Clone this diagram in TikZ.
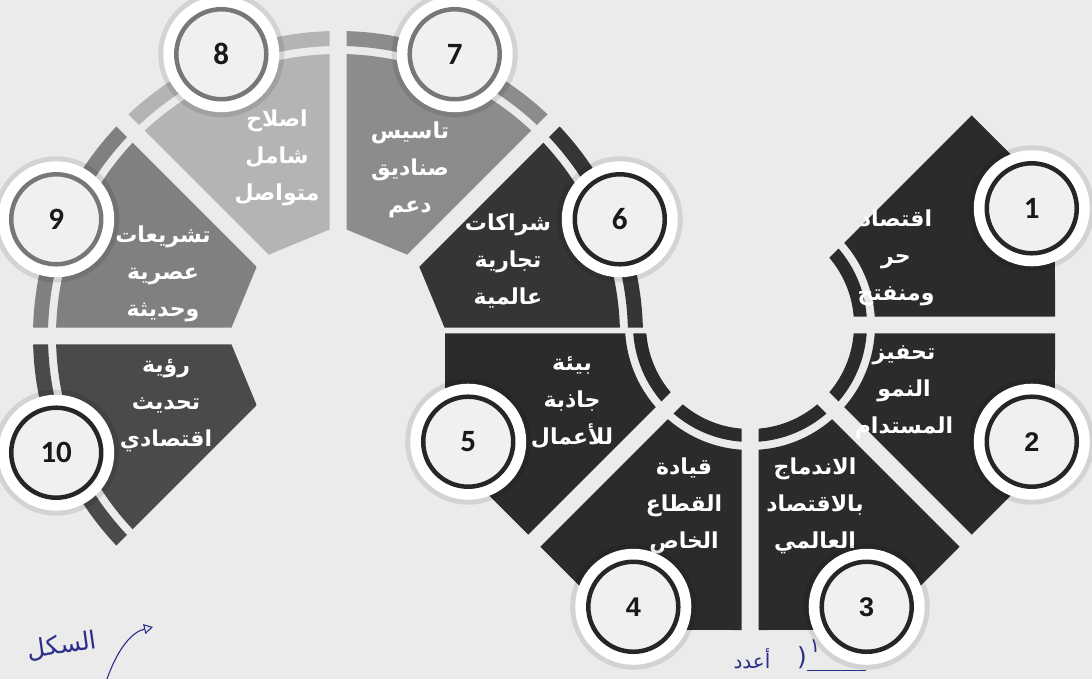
\documentclass[tikz,border=0pt]{standalone}
\usepackage{fontspec}
\setmainfont{Carlito}
\newfontfamily\arabicfont[Script=Arabic]{DejaVu Sans}
\newfontfamily\numA{Carlito}
\newfontfamily\numB{Liberation Sans}
\TeXXeTstate=1
\usetikzlibrary{calc,arrows.meta}
\definecolor{bg}{HTML}{EBEBEB}
\definecolor{segdark}{HTML}{2B2B2B}
\definecolor{segsix}{HTML}{353535}
\definecolor{segseven}{HTML}{8C8C8C}
\definecolor{segeight}{HTML}{B4B4B4}
\definecolor{segnine}{HTML}{808080}
\definecolor{segten}{HTML}{4A4A4A}
\definecolor{ringdark}{HTML}{262626}
\definecolor{ringgray}{HTML}{777777}
\definecolor{badgefill}{HTML}{F0F0F0}
\definecolor{pen}{HTML}{2B2F8A}
\newcommand{\ar}[1]{\beginR #1\endR}
\newcommand{\gp}{8.5}
% right ring segment: centre, start angle, colour
\newcommand{\rseg}[3]{%
  \begin{scope}
    \clip ($(#1)+({#2+22.5}:22.2)$) -- ($(#1)+(#2:430)+({#2+90}:\gp)$) -- ($(#1)+({#2+45}:430)+({#2-45}:\gp)$) -- cycle;
    \fill[#3,even odd rule] (#1) -- ($(#1)+(#2:305)$) -- ($(#1)+({#2+22.5}:330.1)$) -- ($(#1)+({#2+45}:305)$) -- cycle (#1) circle[radius=125];
    \fill[#3,even odd rule] (#1) circle[radius=117] (#1) circle[radius=104];
  \end{scope}}
% left ring segment: centre, start angle, colour
\newcommand{\lseg}[3]{%
  \begin{scope}
    \clip ($(#1)+({#2+22.5}:22.2)$) -- ($(#1)+(#2:430)+({#2+90}:\gp)$) -- ($(#1)+({#2+45}:430)+({#2-45}:\gp)$) -- cycle;
    \fill[#3] ($(#1)+(#2:110)$) -- ($(#1)+(#2:282)$) arc[start angle=#2, end angle={#2+45}, radius=282] -- ($(#1)+({#2+45}:110)$) -- cycle;
    \fill[#3,even odd rule] (#1) circle[radius=305] (#1) circle[radius=290];
  \end{scope}}
\tikzset{
  badge/.style={circle, minimum size=90pt, inner sep=0pt, fill=badgefill, draw=#1, line width=4.5pt,
    text=black!90, preaction={draw=black, draw opacity=0.10, line width=36pt},
    preaction={draw=white, line width=26pt}},
  numa/.style={font=\numA\bfseries\fontsize{31}{32}\selectfont},
  numb/.style={font=\numB\bfseries\fontsize{27}{32}\selectfont},
  seglabel/.style={text=white, align=center, font=\arabicfont\bfseries\fontsize{22}{37}\selectfont},
  hand/.style={text=pen, inner sep=1pt, font=\arabicfont\fontsize{25}{27}\selectfont}
}
\begin{document}
\begin{tikzpicture}[x=1pt,y=1pt]
\fill[bg] (0,0) rectangle (1092,-679);
\useasboundingbox (0,0) rectangle (1092,-679);
\coordinate (CR) at (750,-325);
\coordinate (CL) at (338,-336);
% right ring
\rseg{CR}{0}{segdark}
\rseg{CR}{-45}{segdark}
\rseg{CR}{-90}{segdark}
\rseg{CR}{-135}{segdark}
\rseg{CR}{-180}{segdark}
% left ring
\lseg{CL}{0}{segsix}
\lseg{CL}{45}{segseven}
\lseg{CL}{90}{segeight}
\lseg{CL}{135}{segnine}
\lseg{CL}{180}{segten}
% labels
\node[seglabel] (t1) at (896,-258) {\ar{اقتصاد}\\\ar{حر}\\\ar{ومنفتح}};
\node[seglabel] (t2) at (904,-392) {\ar{تحفيز}\\\ar{النمو}\\\ar{المستدام}};
\node[seglabel] (t3) at (815,-506) {\ar{الاندماج}\\\ar{بالاقتصاد}\\\ar{العالمي}};
\node[seglabel] (t4) at (684,-506) {\ar{قيادة}\\\ar{القطاع}\\\ar{الخاص}};
\node[seglabel] (t5) at (572,-403) {\ar{بيئة}\\\ar{جاذبة}\\\ar{للأعمال}};
\node[seglabel] (t6) at (508,-261) {\ar{شراكات}\\\ar{تجارية}\\\ar{عالمية}};
\node[seglabel] (t7) at (410,-170) {\ar{تاسيس}\\\ar{صناديق}\\\ar{دعم}};
\node[seglabel] (t8) at (277,-158) {\ar{اصلاح}\\\ar{شامل}\\\ar{متواصل}};
\node[seglabel] (t9) at (163,-274) {\ar{تشريعات}\\\ar{عصرية}\\\ar{وحديثة}};
\node[seglabel] (t10) at (166,-406) {\ar{رؤية}\\\ar{تحديث}\\\ar{اقتصادي}};
% badges
\node[badge=ringdark, numa] (b1) at ($(CR)+(22.5:305)$) {1};
\node[badge=ringdark, numb] (b2) at ($(CR)+(-22.5:305)$) {2};
\node[badge=ringdark, numb] (b3) at ($(CR)+(-67.5:305)$) {3};
\node[badge=ringdark, numb] (b4) at ($(CR)+(-112.5:305)$) {4};
\node[badge=ringdark, numa] (b5) at ($(CR)+(-157.5:305)$) {5};
\node[badge=ringdark, numa] (b6) at ($(CL)+(22.5:305)$) {6};
\node[badge=ringgray, numa] (b7) at ($(CL)+(67.5:305)$) {7};
\node[badge=ringgray, numa] (b8) at ($(CL)+(112.5:305)$) {8};
\node[badge=ringgray, numa] (b9) at ($(CL)+(157.5:305)$) {9};
\node[badge=ringdark, numa] (b10) at ($(CL)+(202.5:305)$) {10};
% handwriting
\coordinate (h1) at (107,-679);
\coordinate (h2) at (153,-627);
\draw[pen, line width=1.1pt, -{Triangle[open,length=9pt,width=10pt]}] (h1) .. controls (118,-648) and (132,-632) .. (h2);
\node[hand, rotate=8] (hw1) at (62,-646) {\ar{السكل}};
\node[hand, font=\arabicfont\fontsize{20}{22}\selectfont] (hw2) at (752,-659) {\ar{أعدد}};
\node[hand] (hw3) at (802,-658) {(};
\node[hand, font=\arabicfont\fontsize{20}{22}\selectfont] (hw4) at (815,-646) {\ar{١}};
\coordinate (h3) at (807,-670);
\coordinate (h4) at (866,-670);
\draw[pen, line width=1pt] (h3) -- (h4);
\end{tikzpicture}
\end{document}
